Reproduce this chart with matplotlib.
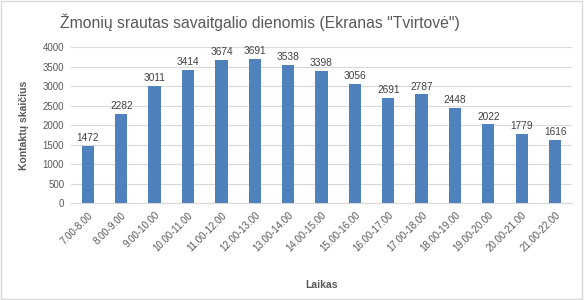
import numpy as np
import matplotlib
matplotlib.use('Agg')
import matplotlib.pyplot as plt

# data
laikas = ['7.00-8.00', '8.00-9.00', '9.00-10.00', '10.00-11.00', '11.00-12.00',
          '12.00-13.00', '13.00-14.00', '14.00-15.00', '15.00-16.00', '16.00-17.00',
          '17.00-18.00', '18.00-19.00', '19.00-20.00', '20.00-21.00', '21.00-22.00']
kontaktai = [1472, 2282, 3011, 3414, 3674, 3691, 3538, 3398, 3056, 2691,
             2787, 2448, 2022, 1779, 1616]

plt.rcParams['font.family'] = ['Liberation Sans', 'DejaVu Sans']
txt = '#595959'
bar_col = '#4F81BD'

fig = plt.figure(figsize=(5.84, 3.0), dpi=100)
ax = fig.add_axes([0.122, 0.323, 0.857, 0.52])

x = np.arange(len(laikas))
bars = ax.bar(x, kontaktai, width=0.37, color=bar_col, zorder=3)
for xi, v in zip(x, kontaktai):
    ax.text(xi, v + 70, str(v), ha='center', va='bottom', fontsize=7.3, color='#404040')

ax.set_xlim(-0.5, len(laikas) - 0.5)
ax.set_ylim(0, 4000)
ax.set_yticks(np.arange(0, 4001, 500))
ax.yaxis.grid(True, color='#D9D9D9', linewidth=0.8, zorder=0)
ax.set_xticks(x)
ax.set_xticklabels(laikas, rotation=45, ha='right', rotation_mode='anchor')
ax.tick_params(axis='both', length=0, labelsize=7, colors=txt, pad=5)
for s in ['top', 'right', 'left']:
    ax.spines[s].set_visible(False)
ax.spines['bottom'].set_color('#D9D9D9')

ax.set_xlabel('Laikas', fontsize=7.5, fontweight='bold', color=txt, labelpad=19)
ax.set_ylabel('Kontaktų skaičius', fontsize=7.5, fontweight='bold', color=txt, labelpad=10)

fig.text(0.445, 0.925, 'Žmonių srautas savaitgalio dienomis (Ekranas "Tvirtovė")',
         ha='center', va='center', fontsize=11.3, color=txt)

# chart border
fig.patches.append(plt.Rectangle((0.002, 0.003), 0.995, 0.993, transform=fig.transFigure,
                                 fill=False, edgecolor='#D9D9D9', linewidth=1))

fig.savefig('out.png', dpi=100)
